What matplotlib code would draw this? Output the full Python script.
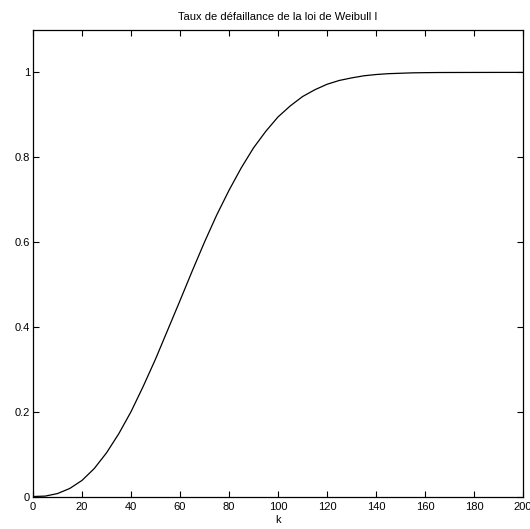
import matplotlib
matplotlib.use("Agg")
import matplotlib.pyplot as plt

# values
k = [0, 5, 10, 15, 20, 25, 30, 35, 40, 45, 50, 55, 60, 65, 70, 75, 80, 85, 90,
     95, 100, 105, 110, 115, 120, 125, 130, 135, 140, 145, 150, 155, 160, 165,
     170, 180, 190, 200]
taux = [0.0, 0.001, 0.007, 0.019, 0.038, 0.066, 0.103, 0.148, 0.200, 0.260,
        0.324, 0.393, 0.462, 0.532, 0.600, 0.664, 0.722, 0.775, 0.822, 0.861,
        0.895, 0.921, 0.943, 0.959, 0.972, 0.981, 0.987, 0.992, 0.995, 0.997,
        0.998, 0.999, 0.9994, 0.9997, 0.9998, 0.9999, 1.0, 1.0]

xticks = [0, 20, 40, 60, 80, 100, 120, 140, 160, 180, 200]
yticks = [0, 0.2, 0.4, 0.6, 0.8, 1]
ytick_labels = ["0", "0.2", "0.4", "0.6", "0.8", "1"]

plt.rcParams["font.family"] = ["Liberation Sans", "DejaVu Sans"]

fig = plt.figure(figsize=(5.30, 5.29), dpi=100)
ax = fig.add_axes([0.0623, 0.0614, 0.9245, 0.8819])

ax.plot(k, taux, color="black", linewidth=0.9)

ax.set_xlim(0, 200)
ax.set_ylim(0, 1.1)
ax.set_xticks(xticks)
ax.set_yticks(yticks)
ax.set_yticklabels(ytick_labels)
ax.tick_params(direction="in", length=4, width=0.8, labelsize=8,
               top=True, right=True, pad=2)
ax.tick_params(axis="x", pad=4)
for s in ax.spines.values():
    s.set_linewidth(0.9)

ax.set_title("Taux de défaillance de la loi de Weibull I", fontsize=8, pad=7)
ax.set_xlabel("k", fontsize=8, labelpad=2)

fig.savefig("out.png", dpi=100)
